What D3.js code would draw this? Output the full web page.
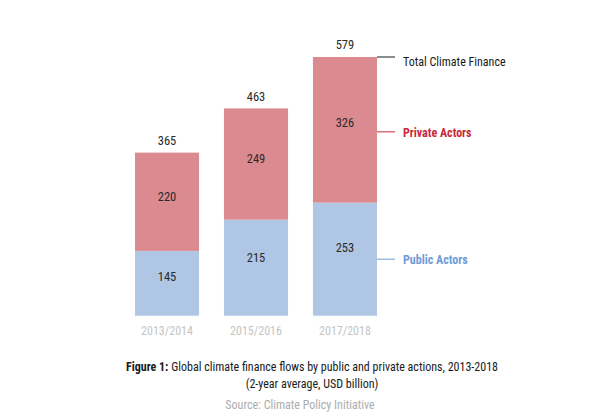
<!DOCTYPE html>
<html><head><meta charset="utf-8">
<script src="https://cdn.jsdelivr.net/npm/d3@7"></script>
<style>
html,body{margin:0;padding:0;background:#fff;}
svg{display:block;font-family:"Liberation Sans Narrow","Arial Narrow","Roboto Condensed",sans-serif;}
</style></head>
<body><svg id="c" width="596" height="419"></svg>
<script>
const categories = ["2013/2014","2015/2016","2017/2018"];
const publicActors = [145,215,253];
const privateActors = [220,249,326];
const totals = [365,463,579];
const seriesNames = ["Public Actors","Private Actors","Total Climate Finance"];

const svg = d3.select("#c");
const baseY = 315.7, topY = 57;
const x = d3.scaleBand().domain(categories).range([135,377]).paddingInner(0.28).paddingOuter(0);
const y = d3.scaleLinear().domain([0,579]).range([baseY, topY]);

const cPub = "#afc6e4", cPriv = "#db8b90";
const rows = categories.map((c,i)=>({c, pub:publicActors[i], priv:privateActors[i], tot:totals[i]}));

const g = svg.append("g");
g.selectAll("rect.pub").data(rows).join("rect")
  .attr("x", d=>x(d.c)).attr("width", x.bandwidth())
  .attr("y", d=>y(d.pub)).attr("height", d=>y(0)-y(d.pub)).attr("fill", cPub);
g.selectAll("rect.priv").data(rows).join("rect")
  .attr("x", d=>x(d.c)).attr("width", x.bandwidth())
  .attr("y", d=>y(d.pub+d.priv)).attr("height", d=>y(d.pub)-y(d.pub+d.priv)).attr("fill", cPriv);

const fs = 12.5;
g.selectAll("text.pub").data(rows).join("text")
  .attr("x", d=>x(d.c)+x.bandwidth()/2)
  .attr("y", d=>y(d.pub)+(y(0)-y(d.pub))*0.40)
  .attr("dy","0.35em").attr("text-anchor","middle").attr("font-size",fs).attr("fill","#2a2a2a")
  .text(d=>d.pub);
g.selectAll("text.priv").data(rows).join("text")
  .attr("x", d=>x(d.c)+x.bandwidth()/2)
  .attr("y", d=>y(d.tot)+(y(d.pub)-y(d.tot))*0.45)
  .attr("dy","0.35em").attr("text-anchor","middle").attr("font-size",fs).attr("fill","#2a2a2a")
  .text(d=>d.priv);
g.selectAll("text.tot").data(rows).join("text")
  .attr("x", d=>x(d.c)+x.bandwidth()/2)
  .attr("y", d=>y(d.tot)-12)
  .attr("dy","0.35em").attr("text-anchor","middle").attr("font-size",fs).attr("fill","#2a2a2a")
  .text(d=>d.tot);

g.selectAll("text.cat").data(categories).join("text")
  .attr("x", d=>x(d)+x.bandwidth()/2).attr("y", baseY+15)
  .attr("dy","0.35em").attr("text-anchor","middle").attr("font-size",12).attr("fill","#c4c4c4")
  .text(d=>d);

const last = rows[rows.length-1];
const lx0 = x(last.c)+x.bandwidth(), lx1 = lx0+18, tx = lx0+26;
const leg = [
  {name:seriesNames[2], yv:y(last.tot), col:"#1a1a1a", lc:"#1a1a1a", bold:false, off:5},
  {name:seriesNames[1], yv:(y(last.tot)+y(last.pub))/2+2, col:"#c8283a", lc:"#c8283a", bold:true, off:0.5},
  {name:seriesNames[0], yv:(y(last.pub)+y(0))/2, col:"#6f9ad8", lc:"#6f9ad8", bold:true, off:0.5}
];
leg.forEach(l=>{
  svg.append("line").attr("x1",lx0).attr("x2",lx1).attr("y1",l.yv).attr("y2",l.yv)
    .attr("stroke",l.lc).attr("stroke-width",1);
  svg.append("text").attr("x",tx).attr("y",l.yv+l.off).attr("dy","0.35em")
    .attr("font-size",12).attr("font-weight",l.bold?"bold":"normal").attr("fill",l.col).text(l.name);
});

const cap = svg.append("text").attr("x",312).attr("y",367).attr("dy","0.35em").attr("text-anchor","middle")
  .attr("font-size",12).attr("fill","#1a1a1a");
cap.append("tspan").attr("font-weight","bold").text("Figure 1:");
cap.append("tspan").text(" Global climate finance flows by public and private actions, 2013-2018");
svg.append("text").attr("x",312).attr("y",383.5).attr("dy","0.35em").attr("text-anchor","middle")
  .attr("font-size",12).attr("fill","#1a1a1a").text("(2-year average, USD billion)");
svg.append("text").attr("x",300).attr("y",405).attr("dy","0.35em").attr("text-anchor","middle")
  .attr("font-size",12).attr("fill","#acacac").text("Source: Climate Policy Initiative");
</script></body></html>
